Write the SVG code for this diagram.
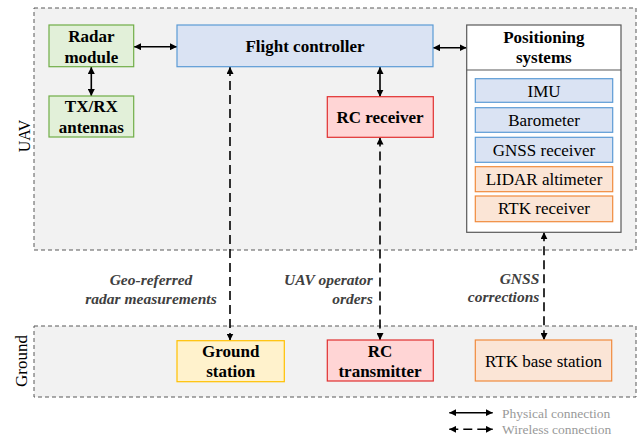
<svg xmlns="http://www.w3.org/2000/svg" width="643" height="439" viewBox="0 0 643 439" font-family="Liberation Serif, Times New Roman, serif">
<defs>
<style>
text{font-family:'Liberation Serif','Times New Roman',serif !important}
.region{fill:#f2f2f2;stroke:#595959;stroke-width:1;stroke-dasharray:4,3}
.nt{fill:#000;text-anchor:middle}
.nb{font-weight:bold;font-size:17px}
.nr{font-size:17px}
.lab{font-weight:bold;font-style:italic;font-size:15.5px;fill:#404040}
.leg{font-size:13.5px;fill:#999}
.green{fill:#e2f0d9;stroke:#70ad47;stroke-width:1.2}
.blue{fill:#dae3f3;stroke:#5b9bd5;stroke-width:1.2}
.red{fill:#ffd5d5;stroke:#e03030;stroke-width:1.2}
.yellow{fill:#fff2cc;stroke:#ffc000;stroke-width:1.2}
.orange{fill:#fbe5d6;stroke:#f08a3c;stroke-width:1.2}
.phys{stroke:#000;stroke-width:1.6;fill:none;marker-start:url(#a);marker-end:url(#a)}
.wl{stroke:#000;stroke-width:1.6;fill:none;stroke-dasharray:9,5;marker-start:url(#a);marker-end:url(#a)}
</style>
<marker id="a" viewBox="0 0 10 10" refX="10" refY="5" markerWidth="7" markerHeight="7" markerUnits="userSpaceOnUse" orient="auto-start-reverse">
<path d="M0,0 L10,5 L0,10 z" fill="#000"/>
</marker>
</defs>
<rect width="643" height="439" fill="#fff"/>
<g id="region-uav">
<rect class="region" x="34" y="8" width="602" height="242"/>
<text class="nt" font-size="16" style="font-family:'Liberation Serif',serif" transform="translate(30,136) rotate(-90)">UAV</text>
</g>
<g id="region-ground">
<rect class="region" x="34" y="326" width="602" height="71"/>
<text class="nt" font-size="17" style="font-family:'Liberation Serif',serif" transform="translate(27,361) rotate(-90)">Ground</text>
</g>
<g id="connectors">
<line class="phys" x1="134" y1="46.7" x2="177" y2="46.7"/>
<line class="phys" x1="91.3" y1="67" x2="91.3" y2="96"/>
<line class="phys" x1="433" y1="47.7" x2="466.5" y2="47.7"/>
<line class="phys" x1="380" y1="67" x2="380" y2="96.7"/>
<line class="wl" x1="230" y1="67" x2="230" y2="340.5"/>
<line class="wl" x1="380" y1="137.5" x2="380" y2="340"/>
<line class="wl" x1="544" y1="232.3" x2="544" y2="340"/>
</g>
<g id="radar-module">
<rect class="green" x="49" y="25" width="84.7" height="41.7"/>
<text class="nt nb" style="font-family:'Liberation Serif',serif" x="91.3" y="42.3">Radar</text>
<text class="nt nb" style="font-family:'Liberation Serif',serif" x="91.3" y="63">module</text>
</g>
<g id="txrx-antennas">
<rect class="green" x="49" y="96" width="84.7" height="41"/>
<text class="nt nb" style="font-family:'Liberation Serif',serif" x="91.3" y="111.7">TX/RX</text>
<text class="nt nb" style="font-family:'Liberation Serif',serif" x="91.3" y="133">antennas</text>
</g>
<g id="flight-controller">
<rect class="blue" x="177" y="25" width="256" height="41.7"/>
<text class="nt nb" style="font-family:'Liberation Serif',serif" x="305" y="52.3">Flight controller</text>
</g>
<g id="rc-receiver">
<rect class="red" x="327.3" y="96.7" width="106" height="40.6"/>
<text class="nt nb" style="font-family:'Liberation Serif',serif" x="380" y="122.7">RC receiver</text>
</g>
<g id="positioning-systems">
<rect x="466.7" y="25" width="154.3" height="207.3" fill="#fff" stroke="#595959" stroke-width="1.2"/>
<line x1="466.7" y1="70" x2="621" y2="70" stroke="#595959" stroke-width="1.2"/>
<text class="nt nb" style="font-family:'Liberation Serif',serif" x="543.8" y="43">Positioning</text>
<text class="nt nb" style="font-family:'Liberation Serif',serif" x="543.8" y="63">systems</text>
</g>
<g id="imu">
<rect class="blue" x="475.3" y="78.7" width="137.4" height="23.6"/>
<text class="nt nr" style="font-family:'Liberation Serif',serif" x="544" y="96.7">IMU</text>
</g>
<g id="barometer">
<rect class="blue" x="475.3" y="107.7" width="137.4" height="24.6"/>
<text class="nt nr" style="font-family:'Liberation Serif',serif" x="544" y="126">Barometer</text>
</g>
<g id="gnss-receiver">
<rect class="blue" x="475.3" y="137.3" width="137.4" height="25"/>
<text class="nt nr" style="font-family:'Liberation Serif',serif" x="544" y="155.7">GNSS receiver</text>
</g>
<g id="lidar-altimeter">
<rect class="orange" x="475.3" y="166.7" width="137.4" height="25"/>
<text class="nt nr" style="font-family:'Liberation Serif',serif" x="544" y="185">LIDAR altimeter</text>
</g>
<g id="rtk-receiver">
<rect class="orange" x="475.3" y="196" width="137.4" height="25.7"/>
<text class="nt nr" style="font-family:'Liberation Serif',serif" x="544" y="214.3">RTK receiver</text>
</g>
<g id="ground-station">
<rect class="yellow" x="177" y="340.7" width="107.3" height="41"/>
<text class="nt nb" style="font-family:'Liberation Serif',serif" x="230.7" y="356.7">Ground</text>
<text class="nt nb" style="font-family:'Liberation Serif',serif" x="230.7" y="377.3">station</text>
</g>
<g id="rc-transmitter">
<rect class="red" x="327.3" y="340" width="106" height="41"/>
<text class="nt nb" style="font-family:'Liberation Serif',serif" x="380" y="356.7">RC</text>
<text class="nt nb" style="font-family:'Liberation Serif',serif" x="380" y="376.7">transmitter</text>
</g>
<g id="rtk-base-station">
<rect class="orange" x="475.3" y="340" width="136.4" height="41"/>
<text class="nt nr" style="font-family:'Liberation Serif',serif" x="543.5" y="366.7">RTK base station</text>
</g>
<g id="labels">
<text class="lab" style="font-family:'Liberation Serif',serif" x="151" y="285" text-anchor="middle">Geo-referred</text>
<text class="lab" style="font-family:'Liberation Serif',serif" x="151" y="304" text-anchor="middle">radar measurements</text>
<text class="lab" style="font-family:'Liberation Serif',serif" x="372.7" y="285" text-anchor="end">UAV operator</text>
<text class="lab" style="font-family:'Liberation Serif',serif" x="372.7" y="304" text-anchor="end">orders</text>
<text class="lab" style="font-family:'Liberation Serif',serif" x="539.3" y="284" text-anchor="end">GNSS</text>
<text class="lab" style="font-family:'Liberation Serif',serif" x="539.3" y="302" text-anchor="end">corrections</text>
</g>
<g id="legend">
<line class="phys" x1="449.3" y1="412.7" x2="492.7" y2="412.7"/>
<line class="wl" x1="449.3" y1="429.3" x2="492.7" y2="429.3" stroke-dasharray="10,6"/>
<text class="leg" style="font-family:'Liberation Serif',serif" x="502" y="417.5">Physical connection</text>
<text class="leg" style="font-family:'Liberation Serif',serif" x="502" y="434">Wireless connection</text>
</g>
</svg>
